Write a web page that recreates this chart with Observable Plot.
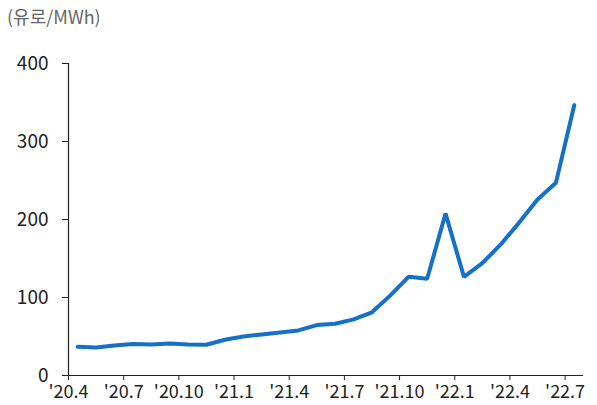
<!DOCTYPE html>
<html>
<head>
<meta charset="utf-8">
<script src="https://cdn.jsdelivr.net/npm/d3@7"></script>
<script src="https://cdn.jsdelivr.net/npm/@observablehq/plot@0.6"></script>
<style>
  body { margin: 0; background: #fff; }
  #wrap { position: relative; width: 597px; height: 405px; }
  #unit { position: absolute; left: 7px; top: 3px; font-family: "Noto Sans CJK KR", "Noto Sans", sans-serif; font-size: 18px; color: #666; }
</style>
</head>
<body>
<div id="wrap"><div id="unit">(유로/MWh)</div></div>
<script>
const months = ["20.4","20.5","20.6","20.7","20.8","20.9","20.10","20.11","20.12",
  "21.1","21.2","21.3","21.4","21.5","21.6","21.7","21.8","21.9","21.10","21.11","21.12",
  "22.1","22.2","22.3","22.4","22.5","22.6","22.7"];
const prices = [37, 36, 38.5, 40.5, 39.8, 41, 39.8, 39.4, 45.8,
  50, 52.6, 55.2, 57.8, 64.6, 66.3, 72, 81, 102.7, 126.7, 124.1, 207.6,
  126.5, 144, 168, 196, 225.6, 247, 346.7];
const tickLabels = ["'20.4","'20.7","'20.10","'21.1","'21.4","'21.7","'21.10","'22.1","'22.4","'22.7"];
const yTicks = [0, 100, 200, 300, 400];

const data = months.map((m, i) => ({i, month: m, value: prices[i]}));
const tickPos = tickLabels.map((_, k) => k * 3);

const chart = Plot.plot({
  width: 597,
  height: 405,
  marginLeft: 68,
  marginRight: 14,
  marginTop: 63,
  marginBottom: 30,
  style: {fontFamily: "'Noto Sans CJK KR', 'Noto Sans', sans-serif", fontSize: "19px", color: "#222", background: "transparent"},
  x: {type: "linear", domain: [0, months.length]},
  y: {domain: [0, 400]},
  marks: [
    Plot.axisY({ticks: yTicks, tickSize: 6, tickPadding: 14, label: null, fontSize: 19, stroke: "#222"}),
    Plot.axisX({ticks: tickPos, tickFormat: (d) => tickLabels[d / 3], tickSize: 5, tickPadding: 5, label: null, fontSize: 18, stroke: "#222"}),
    Plot.ruleX([0], {y1: 0, y2: 400, stroke: "#222", strokeWidth: 1.2}),
    Plot.ruleY([0], {x1: 0, x2: months.length, stroke: "#222", strokeWidth: 1.2}),
    Plot.line(data, {x: (d) => d.i + 0.5, y: "value", stroke: "#1570c8", strokeWidth: 4, strokeLinejoin: "miter", strokeLinecap: "round"})
  ]
});
document.getElementById("wrap").appendChild(chart);
</script>
</body>
</html>
